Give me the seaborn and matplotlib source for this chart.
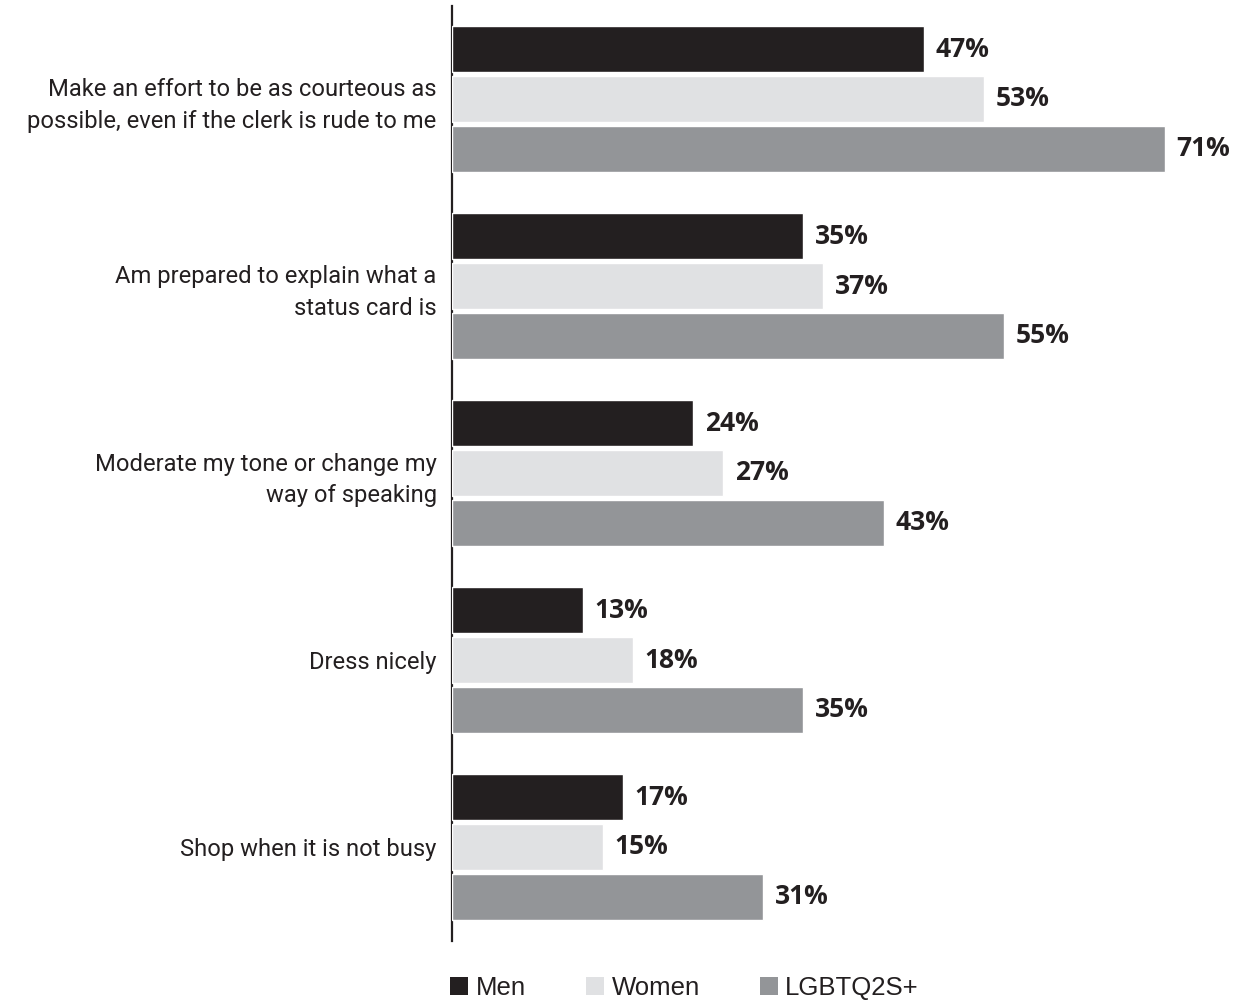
import matplotlib
matplotlib.use("Agg")
import matplotlib.pyplot as plt
import seaborn as sns
import pandas as pd
from matplotlib.patches import Patch

categories = [
    "Make an effort to be as courteous as\npossible, even if the clerk is rude to me",
    "Am prepared to explain what a\nstatus card is",
    "Moderate my tone or change my\nway of speaking",
    "Dress nicely",
    "Shop when it is not busy",
]
groups = ["Men", "Women", "LGBTQ2S+"]
men = [47, 35, 24, 13, 17]
women = [53, 37, 27, 18, 15]
lgbtq = [71, 55, 43, 35, 31]
colors = ["#231f20", "#e0e1e3", "#939598"]

rows = []
for g, vals in zip(groups, [men, women, lgbtq]):
    for c, v in zip(categories, vals):
        rows.append({"Action": c, "Group": g, "Value": v})
df = pd.DataFrame(rows)

sns.set_style("white")
plt.rcParams["font.family"] = ["Roboto", "DejaVu Sans"]

fig = plt.figure(figsize=(12.35, 10.01), dpi=100)
ax = fig.add_axes([452 / 1235, 1 - 940.5 / 1001, 783 / 1235, (940.5 - 5.5) / 1001])

sns.barplot(data=df, y="Action", x="Value", hue="Group", order=categories,
            hue_order=groups, palette=colors, orient="h", gap=0.09,
            saturation=1, legend=False, ax=ax, zorder=1)

for container in ax.containers:
    ax.bar_label(container, labels=[f"{v:.0f}%" for v in container.datavalues],
                 padding=8.5, fontsize=19, fontweight="bold", color="#231f20",
                 family=["Open Sans", "DejaVu Sans"])

ax.set_xlim(0, 78.0)
ax.set_ylim(4.5, -0.5)
ax.set_xlabel("")
ax.set_ylabel("")
ax.set_xticks([])
for s in ["top", "right", "bottom"]:
    ax.spines[s].set_visible(False)
ax.spines["left"].set_color("#231f20")
ax.spines["left"].set_linewidth(1.6)
ax.spines["left"].set_zorder(0)
ax.tick_params(axis="y", length=0, pad=11, labelsize=17.1, labelcolor="#231f20")
for lab in ax.get_yticklabels():
    lab.set_horizontalalignment("right")
    lab.set_multialignment("right")
    lab.set_linespacing(1.45)

handles = [Patch(facecolor=c, edgecolor="none") for c in colors]
fig.legend(handles, groups, loc="lower left", bbox_to_anchor=(427 / 1235, -0.022),
           ncol=3, frameon=False, handlelength=0.7, handleheight=0.75,
           handletextpad=0.3, columnspacing=2.33, labelcolor="#231f20",
           prop={"family": ["Liberation Sans"], "size": 18.5})

fig.savefig("out.png", dpi=100)
